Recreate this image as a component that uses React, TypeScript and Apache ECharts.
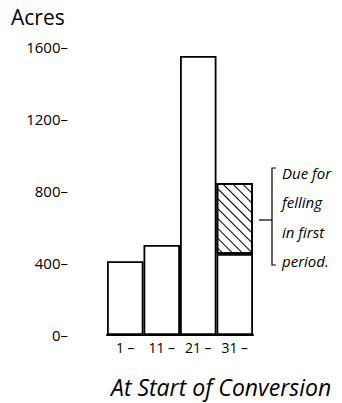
import React, { useEffect, useRef } from "react";
import * as echarts from "echarts";

const categories = ["1 –", "11 –", "21 –", "31 –"];
const baseValues = [410, 500, 1550, 450];
const dueForFelling = [0, 0, 0, 395];
const yTicks = [0, 400, 800, 1200, 1600];
const noteLines = ["Due for", "felling", "in first", "period."];

export default function App() {
  const ref = useRef<HTMLDivElement>(null);
  useEffect(() => {
    if (!ref.current) return;
    const chart = echarts.init(ref.current, null, { renderer: "svg" });
    const font = "'Open Sans', Lato, sans-serif";
    chart.setOption({
      animation: false,
      backgroundColor: "#fff",
      title: [
        {
          text: "Acres",
          left: 6,
          top: 1,
          textStyle: { fontFamily: font, fontSize: 21, fontWeight: "normal", color: "#000" },
        },
        {
          text: "At Start of Conversion",
          left: 106,
          top: 370,
          textStyle: { fontFamily: font, fontSize: 23, fontStyle: "italic", fontWeight: "normal", color: "#000" },
        },
      ],
      grid: { left: 107, right: 89, top: 47, bottom: 68, containLabel: false },
      xAxis: {
        type: "category",
        data: categories,
        axisLine: { show: true, lineStyle: { color: "#000", width: 2 } },
        axisTick: { show: false },
        axisLabel: { color: "#000", fontFamily: font, fontSize: 14, margin: 5 },
      },
      yAxis: {
        type: "value",
        min: yTicks[0],
        max: yTicks[yTicks.length - 1],
        interval: 400,
        axisLine: { show: false },
        axisTick: { show: false },
        splitLine: { show: false },
        axisLabel: {
          color: "#000",
          fontFamily: font,
          fontSize: 15,
          margin: 39,
          formatter: (v: number) => `${v}–`,
        },
      },
      series: [
        {
          type: "bar",
          stack: "a",
          data: baseValues,
          barCategoryGap: 0,
          itemStyle: { color: "#fff", borderColor: "#000", borderWidth: 1.8 },
        },
        {
          type: "bar",
          stack: "a",
          data: dueForFelling.map((v) => (v === 0 ? null : v)),
          barCategoryGap: 0,
          itemStyle: {
            color: "#fff",
            borderColor: "#000",
            borderWidth: 1.8,
            decal: {
              symbol: "rect",
              symbolSize: 1,
              color: "#000",
              backgroundColor: "#fff",
              dashArrayX: [1, 0],
              dashArrayY: [1, 6],
              rotation: Math.PI / 4,
            },
          },
        },
      ],
      graphic: [
        {
          type: "polyline",
          shape: { points: [[276, 168], [272, 168], [272, 265], [276, 265]] },
          style: { stroke: "#000", lineWidth: 1.2, fill: null },
        },
        {
          type: "line",
          shape: { x1: 259, y1: 220, x2: 272, y2: 220 },
          style: { stroke: "#000", lineWidth: 1.2 },
        },
        ...noteLines.map((t, i) => ({
          type: "text",
          left: 282,
          top: 165 + i * 29.5,
          style: { text: t, fill: "#000", font: `italic 15px ${font}` },
        })),
      ],
    });
    return () => chart.dispose();
  }, []);
  return <div ref={ref} style={{ width: 342, height: 403, position: "absolute", left: 0, top: 0 }} />;
}
